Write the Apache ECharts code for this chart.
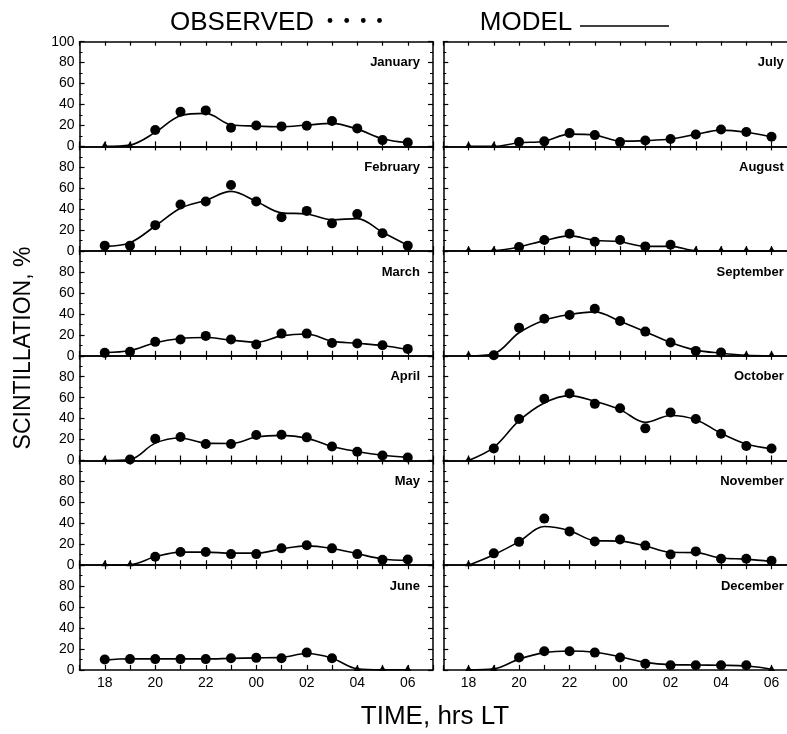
<!DOCTYPE html>
<html>
<head>
<meta charset="utf-8">
<script src="https://cdn.jsdelivr.net/npm/echarts@6/dist/echarts.min.js"></script>
<style>
html, body { margin: 0; padding: 0; background: #fff; }
#chart { width: 787px; height: 734px; }
</style>
</head>
<body>
<div id="chart"></div>
<script>
// Local time of each hourly sample, counted past midnight (24 = 00 h, 30 = 06 h)
const HOURS = [18, 19, 20, 21, 22, 23, 24, 25, 26, 27, 28, 29, 30];
const X_TICK_LABELS = ['18', '20', '22', '00', '02', '04', '06'];
const Y_TICKS = [0, 20, 40, 60, 80, 100];

const MONTHS = ['January', 'February', 'March', 'April', 'May', 'June',
                'July', 'August', 'September', 'October', 'November', 'December'];

// Observed scintillation occurrence (%)
const obsJan = [0, 0, 15.6, 33.1, 34.4, 17.8, 20, 19.1, 19.7, 24.2, 17.2, 6, 3.8];
const obsFeb = [5.2, 5.2, 24.8, 44.5, 47.4, 63.2, 47.4, 32.3, 38.4, 26.5, 35.5, 17.1, 5.2];
const obsMar = [2.8, 3.8, 13.3, 15.5, 19, 15.5, 10.8, 21.2, 21.2, 12.3, 11.7, 10.1, 6.6];
const obsApr = [0, 1, 20.8, 22.4, 15.7, 15.7, 24.3, 24.6, 22.1, 13.4, 8.3, 4.8, 2.9];
const obsMay = [0, 0, 8, 12.6, 12.6, 10.6, 10.6, 16.1, 19, 16.1, 10.6, 5.2, 5.5];
const obsJun = [10, 10.3, 10.3, 10.3, 10.3, 11.2, 11.5, 11.2, 16.5, 11.2, 0, 0, 0];
const obsJul = [0, 0, 4.1, 4.8, 12.7, 10.8, 4.1, 5.7, 7, 11.4, 16.2, 13.7, 9.2];
const obsAug = [0, 0, 3.9, 10.6, 16.5, 9, 10.6, 4.5, 6.1, 0, 0, 0, 0];
const obsSep = [0, 0.6, 26.9, 35.4, 38.9, 44.9, 33.2, 23.1, 12.7, 4.7, 3.2, 0, 0];
const obsOct = [0, 11.5, 39.7, 58.9, 64, 54.1, 49.9, 30.7, 45.8, 39.7, 25.6, 13.8, 11.5];
const obsNov = [0, 11.3, 22.3, 44.5, 32.3, 22.6, 24.5, 18.7, 10.3, 13.2, 6.1, 6.1, 4.2];
const obsDec = [0, 0, 11.8, 17.8, 17.8, 16.5, 11.8, 5.9, 4.4, 4.4, 4.4, 4.4, 0];

// Model curve (%), one value per hour
const modJan = [0, 1.3, 13.4, 29.3, 31.5, 20.7, 19.4, 18.8, 20.4, 22, 16.5, 7.3, 3.5];
const modFeb = [4.5, 8, 24, 41, 48.5, 57, 47.5, 36.5, 35.5, 30, 31, 18, 5.5];
const modMar = [3, 5, 12.5, 16.5, 17.5, 15, 13, 19, 20.8, 14, 12, 9.8, 6];
const modApr = [0, 1, 16.6, 21.5, 16.6, 16.3, 22.4, 24, 21.4, 13.4, 8.6, 5, 3];
const modMay = [0, 0.5, 8, 12.5, 12.5, 11.5, 11.5, 15.5, 18.5, 16, 11, 6, 4.5];
const modJun = [9.3, 10.6, 10.5, 10.5, 10.5, 11, 11.5, 12, 15.6, 11.2, 1, 0, 0];
const modJul = [0, 0, 3.5, 5, 11.7, 10.8, 5, 5.5, 7, 11.5, 15.5, 13.5, 9];
const modAug = [0, 0.5, 4, 10, 14.5, 10.3, 9, 4.5, 4.5, 0.3, 0, 0, 0];
const modSep = [0, 2, 22, 34, 39.5, 42, 33, 23, 12.7, 5.4, 2.5, 0.5, 0];
const modOct = [0, 12.5, 38, 55, 62, 56.6, 48.6, 36.5, 43, 39, 26, 15.7, 11.2];
const modNov = [0, 10, 22.5, 37, 33, 23.5, 23, 18.4, 12.3, 12, 6.8, 5.8, 3.5];
const modDec = [0, 1, 10.3, 16.5, 18, 16.8, 12.5, 7.2, 5, 4.7, 4.4, 3.7, 0.6];

const OBSERVED = [obsJan, obsFeb, obsMar, obsApr, obsMay, obsJun,
                  obsJul, obsAug, obsSep, obsOct, obsNov, obsDec];
const MODEL = [modJan, modFeb, modMar, modApr, modMay, modJun,
               modJul, modAug, modSep, modOct, modNov, modDec];

// Panel layout: two columns of six stacked panels (the right column runs past the page edge)
const COL_LEFT = [79.5, 443.3];
const PANEL_W = 353.5;
const PANEL_TOP = 41.7;
const PANEL_H = 104.7;
const ROWS = 6;
const FONT = '"Liberation Sans", Arial, Helvetica, sans-serif';
const INK = '#000';

const chart = echarts.init(document.getElementById('chart'), null, { renderer: 'canvas' });

const grids = [], xAxes = [], yAxes = [], series = [], graphics = [];

const hourLabel = v => {
  if (!Number.isInteger(v) || v < 18 || v > 30 || (v - 18) % 2 !== 0) return '';
  return X_TICK_LABELS[(v - 18) / 2];
};

MONTHS.forEach((name, k) => {
  const col = Math.floor(k / ROWS);
  const row = k % ROWS;
  const left = COL_LEFT[col];
  const top = PANEL_TOP + row * PANEL_H;
  grids.push({
    left: left, top: top, width: PANEL_W, height: PANEL_H,
    show: false, containLabel: false, outerBoundsMode: 'none'
  });

  const axisLine = { show: true, onZero: false, lineStyle: { color: INK, width: 1.5 } };
  const xBase = {
    type: 'value', gridIndex: k, min: 17, max: 31, interval: 1,
    axisLine: axisLine, splitLine: { show: false },
    axisTick: { show: true, inside: true, length: 5, lineStyle: { color: INK, width: 1.2 } }
  };
  xAxes.push(Object.assign({}, xBase, {
    position: 'bottom',
    axisLabel: {
      show: row === ROWS - 1, formatter: hourLabel, color: INK,
      fontFamily: FONT, fontSize: 14, margin: 6, hideOverlap: false
    }
  }));
  xAxes.push(Object.assign({}, xBase, {
    position: 'top', axisLabel: { show: false },
    axisTick: { show: true, inside: true, length: 4, lineStyle: { color: INK, width: 1.2 } }
  }));

  const yBase = {
    type: 'value', gridIndex: k, min: Y_TICKS[0], max: Y_TICKS[Y_TICKS.length - 1], interval: 20,
    axisLine: axisLine, splitLine: { show: false },
    axisTick: { show: true, inside: true, length: 5, lineStyle: { color: INK, width: 1.2 } },
    minorTick: { show: true, splitNumber: 2, length: 3, lineStyle: { color: INK, width: 1 } }
  };
  yAxes.push(Object.assign({}, yBase, {
    position: 'left',
    axisLabel: {
      show: col === 0, color: INK, fontFamily: FONT, fontSize: 14, margin: 5,
      formatter: v => (v === 100 && row !== 0) ? '' : String(v)
    }
  }));
  yAxes.push(Object.assign({}, yBase, { position: 'right', axisLabel: { show: false } }));

  series.push({
    type: 'line', name: name + ' model', xAxisIndex: 2 * k, yAxisIndex: 2 * k,
    data: HOURS.map((h, i) => [h, MODEL[k][i]]),
    smooth: 0.35, showSymbol: false, symbol: 'none', clip: true,
    lineStyle: { color: INK, width: 1.6 }, z: 2, silent: true
  });
  series.push({
    type: 'scatter', name: name + ' observed', xAxisIndex: 2 * k, yAxisIndex: 2 * k,
    data: HOURS.map((h, i) => {
      const v = OBSERVED[k][i];
      return v === 0
        ? { value: [h, v], symbol: 'triangle', symbolSize: [7, 6], symbolOffset: [0, -2] }
        : { value: [h, v] };
    }),
    symbol: 'circle', symbolSize: 10, clip: false,
    itemStyle: { color: INK, opacity: 1 }, z: 3, silent: true
  });

  // month name in the upper right corner of each panel, level with the 80 % tick
  graphics.push({
    type: 'text', x: left + PANEL_W - 13, y: top + PANEL_H * 0.2,
    style: {
      text: name, font: 'bold 13px ' + FONT, fill: INK,
      textAlign: 'right', textVerticalAlign: 'middle', align: 'right', verticalAlign: 'middle'
    }
  });
});

// Header key: observed dots and model line
graphics.push({
  type: 'text', x: 242, y: 23,
  style: { text: 'OBSERVED', font: '26px ' + FONT, fill: INK,
           textAlign: 'center', textVerticalAlign: 'middle', align: 'center', verticalAlign: 'middle' }
});
[330, 346.7, 363.3, 379.5].forEach(cx => {
  graphics.push({ type: 'circle', shape: { cx: cx, cy: 20.5, r: 2.4 }, style: { fill: INK } });
});
graphics.push({
  type: 'text', x: 526, y: 23,
  style: { text: 'MODEL', font: '26px ' + FONT, fill: INK,
           textAlign: 'center', textVerticalAlign: 'middle', align: 'center', verticalAlign: 'middle' }
});
graphics.push({
  type: 'line', shape: { x1: 580, y1: 26, x2: 669, y2: 26 },
  style: { stroke: INK, lineWidth: 1.6 }
});

// Axis titles
graphics.push({
  type: 'text', x: 24, y: 348, rotation: Math.PI / 2,
  style: { text: 'SCINTILLATION, %', font: '23px ' + FONT, fill: INK,
           textAlign: 'center', textVerticalAlign: 'middle', align: 'center', verticalAlign: 'middle' }
});
graphics.push({
  type: 'text', x: 435, y: 717,
  style: { text: 'TIME, hrs LT', font: '26px ' + FONT, fill: INK,
           textAlign: 'center', textVerticalAlign: 'middle', align: 'center', verticalAlign: 'middle' }
});

chart.setOption({
  animation: false,
  backgroundColor: '#fff',
  grid: grids,
  xAxis: xAxes,
  yAxis: yAxes,
  series: series,
  graphic: graphics
});
</script>
</body>
</html>
